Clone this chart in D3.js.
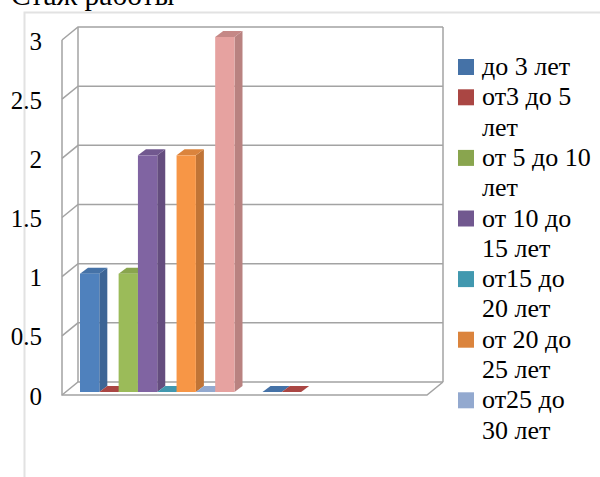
<!DOCTYPE html>
<html>
<head>
<meta charset="utf-8">
<script src="https://cdn.jsdelivr.net/npm/d3@7"></script>
<style>
  html, body { margin: 0; padding: 0; background: #fff; overflow: hidden; }
  text { font-family: "Liberation Serif", serif; fill: #000; }
</style>
</head>
<body>
<div id="app"></div>
<script>
const title = 'Стаж работы';
const categories = ['1', '2'];
const seriesNames = ['до 3 лет', 'от3 до 5 лет', 'от 5 до 10 лет', 'от 10 до 15 лет', 'от15 до 20 лет', 'от 20 до 25 лет', 'от25 до 30 лет', 'свыше 30 лет'];
// the wrapped legend text, the last series has no visible legend entry
const legendLines = [['до 3 лет'], ['от3 до 5', 'лет'], ['от 5 до 10', 'лет'], ['от 10 до', '15 лет'], ['от15 до', '20 лет'], ['от 20 до', '25 лет'], ['от25 до', '30 лет']];
const firstValues = [1, 0, 1, 2, 0, 2, 0, 3];
const secondValues = [0, 0, null, null, null, null, null, null];
const yTicks = [0, 0.5, 1, 1.5, 2, 2.5, 3];
const frontColors = ['#4f81bd', '#c0504d', '#9bbb59', '#8064a2', '#4bacc6', '#f79646', '#95b0d8', '#e6a2a0'];
const topColors = ['#4572a7', '#aa4643', '#89a54e', '#71588f', '#4198af', '#db843d', '#93a9cf', '#c58886'];
const sideColors = ['#3d6595', '#933c39', '#789044', '#644d7e', '#38859a', '#c07436', '#8095b8', '#b98280'];

const svg = d3.select('#app')
  .append('svg')
  .attr('width', 600)
  .attr('height', 477);

// 3d box: front plane and back wall are offset by this much
const depthX = 16;
const depthY = -13;
const barDepthX = 8;
const barDepthY = -6;

const yFront = d3.scaleLinear().domain([0, 3]).range([395, 40]);
const yBar = d3.scaleLinear().domain([0, 3]).range([392, 37]);
const x0 = 62;
const x1 = 427;

const xCat = d3.scaleBand().domain(categories).range([71.5, 436.5]);
const xSeries = d3.scaleBand().domain(seriesNames).range([8.5, 163]);

// chart area border
svg.append('path')
  .attr('d', 'M24.5,477V12.5H600')
  .attr('fill', 'none')
  .attr('stroke', '#e2e2e2')
  .attr('stroke-width', 2);

svg.append('text')
  .attr('x', 11)
  .attr('y', 5)
  .attr('font-size', 29.5)
  .text(title);

const walls = svg.append('g')
  .attr('fill', 'none')
  .attr('stroke', '#a3a3a3')
  .attr('stroke-width', 1.5);

// gridlines run along the back wall and down the side wall
walls.selectAll('path.grid')
  .data(yTicks)
  .join('path')
  .attr('class', 'grid')
  .attr('d', d => `M${x0},${yFront(d)}L${x0 + depthX},${yFront(d) + depthY}H${x1 + depthX}`);

walls.append('path')
  .attr('d', `M${x0},${yFront(3)}V${yFront(0)}H${x1}L${x1 + depthX},${yFront(0) + depthY}`);
walls.append('path')
  .attr('d', `M${x0 + depthX},${yFront(3) + depthY}V${yFront(0) + depthY}`);
walls.append('path')
  .attr('d', `M${x1 + depthX},${yFront(3) + depthY}V${yFront(0) + depthY}`);

const yAxis = d3.axisLeft(yFront)
  .tickValues(yTicks)
  .tickFormat(d3.format('~g'))
  .tickSize(0)
  .tickPadding(20);

const axisG = svg.append('g')
  .attr('transform', `translate(${x0},0)`)
  .call(yAxis);
axisG.select('.domain').remove();
axisG.selectAll('text')
  .attr('font-family', '"Liberation Serif", serif')
  .attr('font-size', 25)
  .attr('dy', 9);

const bars = [];
[firstValues, secondValues].forEach((values, c) => {
  values.forEach((v, s) => {
    if (v !== null) bars.push({ cat: categories[c], s: s, v: v });
  });
});

const barG = svg.selectAll('g.bar')
  .data(bars)
  .join('g')
  .attr('class', 'bar')
  .attr('transform', d => `translate(${xCat(d.cat) + xSeries(seriesNames[d.s])},0)`);

const w = xSeries.bandwidth();

barG.append('path')
  .attr('fill', d => sideColors[d.s])
  .attr('d', d => `M${w},${yBar(d.v)}l${barDepthX},${barDepthY}V${yBar(0) + barDepthY}l${-barDepthX},${-barDepthY}Z`);

barG.append('path')
  .attr('fill', d => topColors[d.s])
  .attr('d', d => `M0,${yBar(d.v)}l${barDepthX},${barDepthY}h${w}l${-barDepthX},${-barDepthY}Z`);

barG.append('rect')
  .attr('width', w)
  .attr('y', d => yBar(d.v))
  .attr('height', d => yBar(0) - yBar(d.v))
  .attr('fill', d => frontColors[d.s]);

// legend, each entry takes as many rows as it has wrapped lines
const lineHeight = 30.3;
const legendX = 458;
const legendY = 75;
let row = 0;
legendLines.forEach((lines, i) => {
  const baseY = legendY + row * lineHeight;
  svg.append('rect')
    .attr('x', legendX)
    .attr('y', baseY - 16)
    .attr('width', 16)
    .attr('height', 16)
    .attr('fill', topColors[i]);
  lines.forEach((line, k) => {
    svg.append('text')
      .attr('x', legendX + 24)
      .attr('y', baseY + k * lineHeight)
      .attr('font-size', 26)
      .text(line);
  });
  row += lines.length;
});
</script>
</body>
</html>
